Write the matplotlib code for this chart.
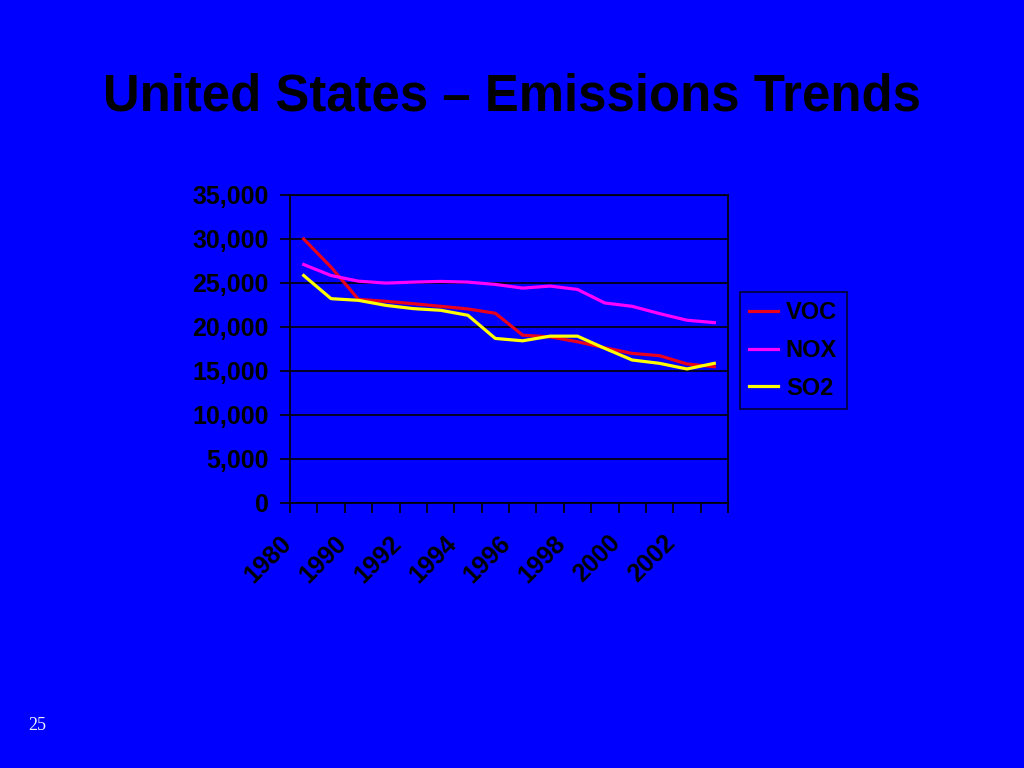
import matplotlib
matplotlib.use("Agg")
import matplotlib.pyplot as plt
from matplotlib.ticker import FuncFormatter, FixedLocator
from matplotlib.transforms import ScaledTranslation

plt.rcParams['font.family'] = ['Liberation Sans', 'DejaVu Sans']

years = ["1980", "1985", "1990", "1991", "1992", "1993", "1994", "1995",
         "1996", "1997", "1998", "1999", "2000", "2001", "2002", "2003"]
voc = [30000, 26800, 23140, 22920, 22650, 22350, 22050, 21560,
       19070, 18880, 18320, 17640, 17000, 16740, 15800, 15490]
nox = [27100, 25850, 25210, 24990, 25100, 25180, 25100, 24840,
       24420, 24650, 24270, 22730, 22350, 21520, 20770, 20500]
so2 = [25850, 23220, 23030, 22460, 22090, 21900, 21330, 18700,
       18430, 18960, 18960, 17570, 16250, 15870, 15230, 15870]

series = [("VOC", voc, "#e8001c"), ("NOX", nox, "#ff00ff"), ("SO2", so2, "#ffff00")]
bg = "#0000ff"

fig = plt.figure(figsize=(10.24, 7.68), dpi=100, facecolor=bg)
ax = fig.add_axes([290 / 1024, 1 - 503 / 768, 438 / 1024, 308 / 768])
ax.set_facecolor(bg)

x = list(range(len(years)))
for name, vals, col in series:
    ax.plot(x, vals, color=col, lw=2.3, label=name)

ax.set_xlim(-0.5, len(years) - 0.5)
ax.set_ylim(0, 35000)
ax.set_yticks(range(0, 35001, 5000))
ax.yaxis.set_major_formatter(FuncFormatter(lambda v, p: f"{int(v):,}"))
ax.grid(axis="y", color="black", lw=1.2)
ax.set_axisbelow(True)

# category boundaries as tick marks, labels every other year
ax.xaxis.set_major_locator(FixedLocator([i - 0.5 for i in range(len(years) + 1)]))
ax.xaxis.set_major_formatter(FuncFormatter(lambda v, p: ""))
ax.xaxis.set_minor_locator(FixedLocator(x[::2]))
ax.set_xticklabels(years[::2], minor=True)
ax.tick_params(axis="x", which="major", length=7, width=1.2, color="black")
ax.tick_params(axis="x", which="minor", length=0, pad=20, labelsize=18)
ax.tick_params(axis="y", length=7, width=1.2, pad=8.5, labelsize=18)
for lab in ax.get_xticklabels(minor=True):
    lab.set_rotation(45)
    lab.set_ha("right")
    lab.set_va("top")
    lab.set_fontweight("bold")
    lab.set_transform(lab.get_transform() + ScaledTranslation(-0.07, 0, fig.dpi_scale_trans))
for lab in ax.get_yticklabels():
    lab.set_fontweight("bold")

for s in ax.spines.values():
    s.set_color("black")
    s.set_linewidth(1.2)

leg = fig.legend(loc="upper left", bbox_to_anchor=(740 / 1024, 1 - 292 / 768),
                 borderaxespad=0, frameon=True, fancybox=False,
                 prop={"weight": "bold", "size": 17}, handlelength=1.2,
                 handletextpad=0.34, labelspacing=0.62, borderpad=0.4)
leg.get_frame().set_facecolor(bg)
leg.get_frame().set_edgecolor("black")
leg.get_frame().set_linewidth(1.2)

fig.text(0.5, 1 - 97 / 768, "United States \u2013 Emissions Trends",
         ha="center", va="center", fontsize=36.6, fontweight="bold", color="black")
fig.text(28 / 1024, 1 - 726 / 768, "25", ha="left", va="center",
         fontsize=13, color="#f0f0ff", family=["Liberation Serif", "DejaVu Serif"])

fig.savefig("out.png", dpi=100, facecolor=bg)
